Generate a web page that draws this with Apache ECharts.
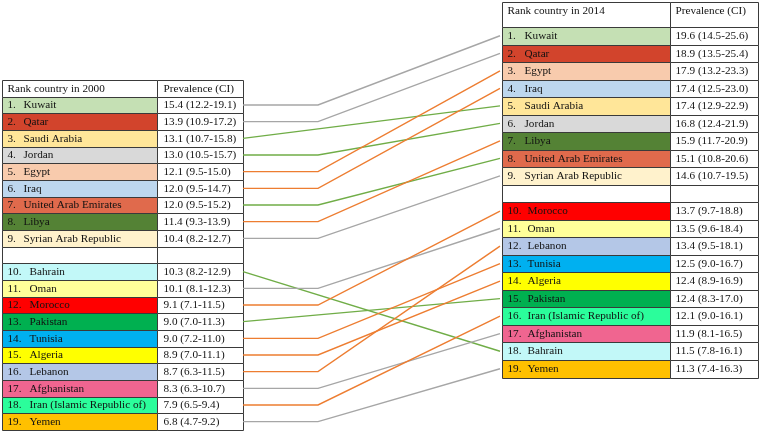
<!DOCTYPE html>
<html><head><meta charset="utf-8">
<script src="https://cdn.jsdelivr.net/npm/echarts@6/dist/echarts.min.js"></script>
<style>html,body{margin:0;padding:0;background:#fff}#c{width:760px;height:433px}</style>
</head><body><div id="c"></div><script>
// ---------- DATA ----------
const countries2000 = ['Kuwait','Qatar','Saudi Arabia','Jordan','Egypt','Iraq','United Arab Emirates','Libya','Syrian Arab Republic','Bahrain','Oman','Morocco','Pakistan','Tunisia','Algeria','Lebanon','Afghanistan','Iran (Islamic Republic of)','Yemen'];
const prev2000   = [15.4,13.9,13.1,13.0,12.1,12.0,12.0,11.4,10.4,10.3,10.1,9.1,9.0,9.0,8.9,8.7,8.3,7.9,6.8];
const ciLow2000  = [12.2,10.9,10.7,10.5,9.5,9.5,9.5,9.3,8.2,8.2,8.1,7.1,7.0,7.2,7.0,6.3,6.3,6.5,4.7];
const ciHigh2000 = [19.1,17.2,15.8,15.7,15.0,14.7,15.2,13.9,12.7,12.9,12.3,11.5,11.3,11.0,11.1,11.5,10.7,9.4,9.2];

const countries2014 = ['Kuwait','Qatar','Egypt','Iraq','Saudi Arabia','Jordan','Libya','United Arab Emirates','Syrian Arab Republic','Morocco','Oman','Lebanon','Tunisia','Algeria','Pakistan','Iran (Islamic Republic of)','Afghanistan','Bahrain','Yemen'];
const prev2014   = [19.6,18.9,17.9,17.4,17.4,16.8,15.9,15.1,14.6,13.7,13.5,13.4,12.5,12.4,12.4,12.1,11.9,11.5,11.3];
const ciLow2014  = [14.5,13.5,13.2,12.5,12.9,12.4,11.7,10.8,10.7,9.7,9.6,9.5,9.0,8.9,8.3,9.0,8.1,7.8,7.4];
const ciHigh2014 = [25.6,25.4,23.3,23.0,22.9,21.9,20.9,20.6,19.5,18.8,18.4,18.1,16.7,16.9,17.0,16.1,16.5,16.1,16.3];

const headers2000 = ['Rank country in 2000','Prevalence (CI)'];
const headers2014 = ['Rank country in 2014','Prevalence (CI)'];

// ---------- STYLES ----------
const countryColors = {
  'Kuwait':'#c5e0b4','Qatar':'#d2442c','Saudi Arabia':'#ffe699','Jordan':'#d9d9d9','Egypt':'#f8cbad',
  'Iraq':'#bdd7ee','United Arab Emirates':'#e06a4c','Libya':'#548235','Syrian Arab Republic':'#fff2cc',
  'Bahrain':'#c2f8f8','Oman':'#ffff99','Morocco':'#ff0000','Pakistan':'#00b050','Tunisia':'#00b0f0',
  'Algeria':'#ffff00','Lebanon':'#b4c7e7','Afghanistan':'#f06590','Iran (Islamic Republic of)':'#2bfd9b','Yemen':'#ffc000'
};
const linkColors = {same:'#a6a6a6', up:'#ed7d31', down:'#70ad47'};
const straightLinks = ['Saudi Arabia','Bahrain','Pakistan'];
const FONT = '11.2px "Liberation Serif", "Times New Roman", serif';
const BORDER = '#3a3a3a';

// layout (pixel-sized units for the hidden axes)
const L = {left:2, top:80, width:241, height:350, cols:[0,155,241], headerTop:-1, numX:5, nameX1:21, nameX2:27, valX:6};
const R = {left:502, top:27, width:256, height:350.5, cols:[0,168,256], headerTop:-1.45, numX:5, nameX1:22, nameX2:25, valX:5};
const ELBOW_X = 316, RIGHT_GAP = -2;

const rowOf = rank => rank <= 9 ? rank - 1 : rank; // blank separator row after rank 9
const fmt = (v, lo, hi) => v.toFixed(1) + ' (' + lo.toFixed(1) + '-' + hi.toFixed(1) + ')';

function buildCells(countries, prev, lo, hi, headers, lay) {
  const c = lay.cols, items = [];
  items.push({value:[c[0],c[1],lay.headerTop,0], kind:'header', text:headers[0]});
  items.push({value:[c[1],c[2],lay.headerTop,0], kind:'header', text:headers[1]});
  items.push({value:[c[0],c[1],9,10], kind:'blank'});
  items.push({value:[c[1],c[2],9,10], kind:'blank'});
  countries.forEach((name,i) => {
    const r = rowOf(i+1);
    items.push({value:[c[0],c[1],r,r+1], kind:'name', rank:i+1, text:name, fill:countryColors[name]});
    items.push({value:[c[1],c[2],r,r+1], kind:'val', text:fmt(prev[i],lo[i],hi[i])});
  });
  return items;
}
const cellsL = buildCells(countries2000, prev2000, ciLow2000, ciHigh2000, headers2000, L);
const cellsR = buildCells(countries2014, prev2014, ciLow2014, ciHigh2014, headers2014, R);

function makeRender(items, lay) {
  return function(params, api) {
    const it = items[params.dataIndex];
    const p0 = api.coord([api.value(0), api.value(2)]);
    const p1 = api.coord([api.value(1), api.value(3)]);
    const x = Math.round(p0[0]) + 0.5, y = Math.round(p0[1]) + 0.5;
    const w = Math.round(p1[0]) - Math.round(p0[0]), h = Math.round(p1[1]) - Math.round(p0[1]);
    const children = [{type:'rect', shape:{x, y, width:w, height:h},
      style:{fill: it.fill || '#ffffff', stroke: BORDER, lineWidth: 1}}];
    const cy = y + h/2;
    const tstyle = (t, tx, ty) => ({type:'text', style:{text:t, x:tx, y:ty, font:FONT, fill:'#111', align:'left', verticalAlign:'middle'}});
    if (it.kind === 'header') {
      const ty = lay.headerTop < -1 ? y + 9 : cy;
      children.push(tstyle(it.text, x + (it.value[0] === 0 ? lay.numX : lay.valX), ty));
    } else if (it.kind === 'name') {
      children.push(tstyle(it.rank + '.', x + lay.numX, cy));
      children.push(tstyle(it.text, x + (it.rank < 10 ? lay.nameX1 : lay.nameX2), cy));
    } else if (it.kind === 'val') {
      children.push(tstyle(it.text, x + lay.valX, cy));
    }
    return {type:'group', children};
  };
}

function cellSeries(items, lay, idx) {
  return {type:'custom', xAxisIndex:idx, yAxisIndex:idx, clip:false, silent:true,
    encode:{x:[0,1], y:[2,3]}, data:items, renderItem:makeRender(items, lay)};
}

const baseOption = {
  animation:false,
  backgroundColor:'#ffffff',
  grid:[
    {left:L.left, top:L.top, width:L.width, height:L.height},
    {left:R.left, top:R.top, width:R.width, height:R.height}
  ],
  xAxis:[
    {type:'value', gridIndex:0, min:0, max:L.width, show:false},
    {type:'value', gridIndex:1, min:0, max:R.width, show:false}
  ],
  yAxis:[
    {type:'value', gridIndex:0, min:-1, max:20, inverse:true, show:false},
    {type:'value', gridIndex:1, min:0, max:20, inverse:true, show:false}
  ],
  series:[cellSeries(cellsL, L, 0), cellSeries(cellsR, R, 1)]
};

const chart = echarts.init(document.getElementById('c'), null, {renderer:'canvas'});
chart.setOption(baseOption);

// links: computed through the two tables' scales
const links = countries2000.map((name, i) => {
  const j = countries2014.indexOf(name);
  const yL = rowOf(i+1) + 0.5, yR = rowOf(j+1) + 0.5;
  const a = chart.convertToPixel({gridIndex:0}, [L.width, yL]);
  const b = chart.convertToPixel({gridIndex:0}, [ELBOW_X, yL]);
  const c = chart.convertToPixel({gridIndex:1}, [RIGHT_GAP, yR]);
  const pts = straightLinks.includes(name) ? [a, c] : [a, b, c];
  const color = j === i ? linkColors.same : (j < i ? linkColors.up : linkColors.down);
  return {pts, color};
});

chart.setOption({series:[
  baseOption.series[0], baseOption.series[1],
  {type:'custom', coordinateSystem:'none', silent:true, data:links.map((l,i)=>i),
   renderItem:function(params){
     const l = links[params.dataIndex];
     return {type:'polyline', shape:{points:l.pts}, style:{stroke:l.color, lineWidth:1.4, fill:null}};
   }}
]});
</script></body></html>
